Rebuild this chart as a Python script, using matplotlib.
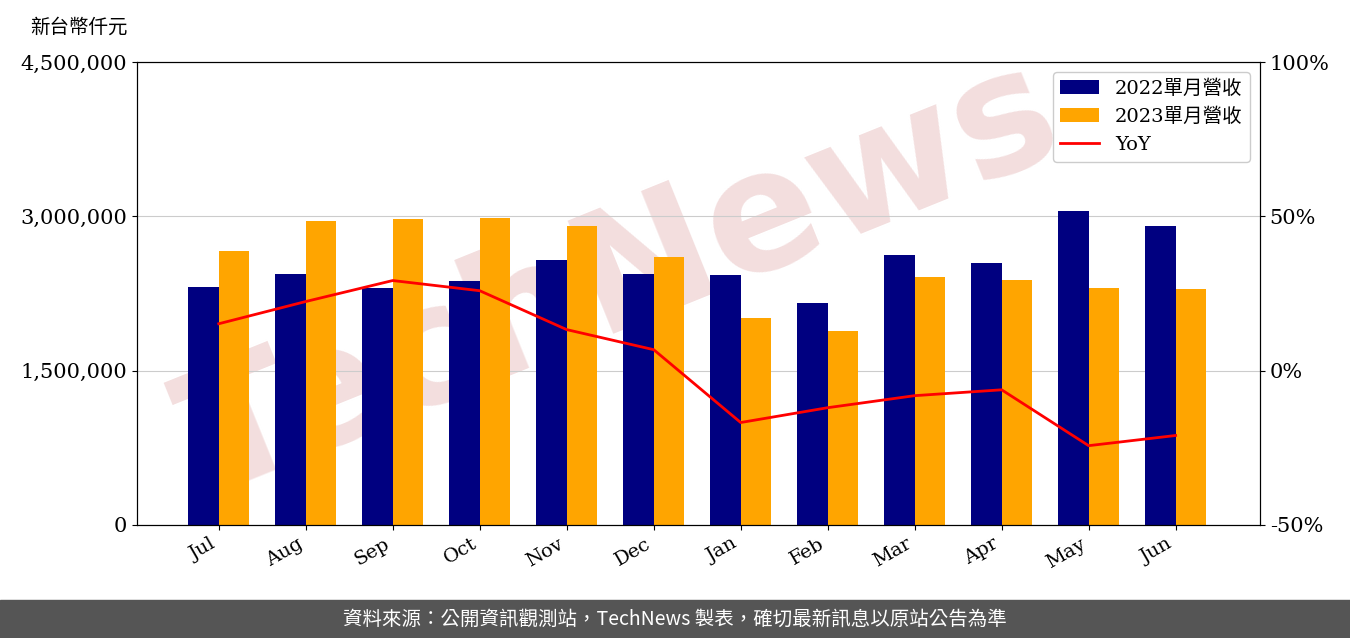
import matplotlib
matplotlib.use("Agg")
import matplotlib.pyplot as plt
import numpy as np

months = ["Jul","Aug","Sep","Oct","Nov","Dec","Jan","Feb","Mar","Apr","May","Jun"]
rev2022 = [2313000,2440000,2300000,2370000,2575000,2440000,2430000,2157000,2624000,2546000,3050000,2906000]
rev2023 = [2663000,2954000,2974000,2983000,2906000,2604000,2012000,1885000,2410000,2380000,2300000,2290000]
yoy = [15.2,22.4,29.2,25.9,13.3,6.8,-16.8,-12.0,-8.1,-6.2,-24.3,-21.0]

plt.rcParams['font.family'] = ['DejaVu Serif', 'Noto Sans CJK TC']
fig = plt.figure(figsize=(13.5, 6.38), dpi=100)
fig.text(0.46, 0.56, 'TechNews', fontsize=120, rotation=22, color='#f3dede',
         ha='center', va='center', family='DejaVu Sans', fontweight='bold', zorder=-5)
ax = fig.add_axes([137/1350, 1-525/638, (1260-137)/1350, (525-62)/638])
ax.patch.set_alpha(0)
x = np.arange(len(months))
w = 0.35
b1 = ax.bar(x - w/2, rev2022, w, color='#000080', label='2022單月營收', zorder=2)
b2 = ax.bar(x + w/2, rev2023, w, color='#FFA500', label='2023單月營收', zorder=2)
ax.set_ylim(0, 4500000)
ax.set_yticks([0,1500000,3000000,4500000])
ax.set_yticklabels(['0','1,500,000','3,000,000','4,500,000'], fontsize=15)
ax.yaxis.grid(True, color='#cccccc', zorder=0)
ax.set_xticks(x)
ax.set_xticklabels(months, rotation=30, ha='right', fontsize=14)
ax.set_xlim(-0.94, 11.97)
ax2 = ax.twinx()
l, = ax2.plot(x, yoy, color='red', lw=2, label='YoY')
ax2.set_ylim(-50, 100)
ax2.set_yticks([-50,0,50,100])
ax2.set_yticklabels(['-50%','0%','50%','100%'], fontsize=15)
leg = ax2.legend([b1,b2,l], ['2022單月營收','2023單月營收','YoY'], loc='upper right', fontsize=14)
leg.get_frame().set_alpha(1)
fig.text(30/1350, 1-27/638, '新台幣仟元', fontsize=14, va='center')
fig.patches.append(matplotlib.patches.Rectangle((0,0),1,38/638, transform=fig.transFigure, color='#555555'))
fig.text(0.5, 19/638, '資料來源：公開資訊觀測站，TechNews 製表，確切最新訊息以原站公告為準', color='white',
         fontsize=14, ha='center', va='center', family=['Noto Sans CJK TC'])
fig.savefig('out.png', dpi=100)
